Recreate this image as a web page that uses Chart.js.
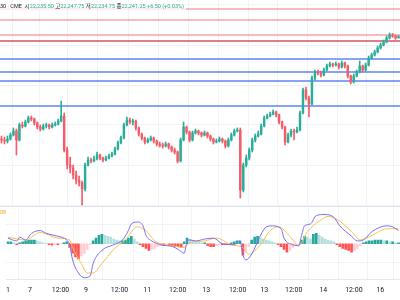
<!DOCTYPE html>
<html>
<head>
<meta charset="utf-8">
<script src="https://cdn.jsdelivr.net/npm/chart.js@4"></script>
<style>
html, body { margin: 0; padding: 0; background: #fff; width: 400px; height: 300px; overflow: hidden; font-family: Roboto, "Noto Sans CJK KR", sans-serif; }
#priceBox { position: absolute; left: 0; top: 0; width: 400px; height: 206px; }
#macdBox { position: absolute; left: 0; top: 207px; width: 400px; height: 93px; }
#sep { position: absolute; left: 0; top: 206px; width: 400px; height: 1px; background: #e0e3eb; }
#legend { position: absolute; left: 0; top: 3px; font-size: 5.5px; line-height: 7px; color: #131722; background: rgba(255,255,255,0.75); white-space: nowrap; padding-right: 2px; }
#legend b { font-weight: normal; color: #22ab94; }
#legend i { font-style: normal; font-family: "Noto Sans CJK KR", sans-serif; }
#macdLabel { position: absolute; left: 0; top: 209px; font-size: 5.5px; line-height: 7px; color: #f5a623; }
</style>
</head>
<body>
<div id="priceBox"><canvas id="price"></canvas></div>
<div id="sep"></div>
<div id="macdBox"><canvas id="macd"></canvas></div>
<div id="legend">30 · CME &nbsp;<i>시</i><b>22,235.50</b> <i>고</i><b>22,247.75</b> <i>저</i><b>22,234.75</b> <i>종</i><b>22,241.25</b> <b>+6.50 (+0.03%)</b></div>
<div id="macdLabel">08</div>
<script>
// velas de 30 min (apertura, máximo, mínimo, cierre)
const opens = [
  21730, 21725, 21720, 21730, 21750, 21770, 21725, 21800, 21795, 21815,
  21835, 21830, 21810, 21790, 21780, 21795, 21800, 21790, 21800, 21805,
  21820, 21845, 21675, 21600, 21585, 21550, 21525, 21510, 21480, 21600,
  21625, 21620, 21630, 21650, 21635, 21625, 21635, 21645, 21655, 21680,
  21710, 21735, 21800, 21825, 21815, 21820, 21785, 21755, 21735, 21715,
  21725, 21735, 21720, 21705, 21700, 21695, 21705, 21690, 21675, 21665,
  21620, 21725, 21790, 21765, 21725, 21760, 21770, 21760, 21750, 21760,
  21745, 21730, 21715, 21720, 21730, 21720, 21695, 21725, 21750, 21770,
  21775, 21475, 21600, 21635, 21675, 21725, 21745, 21755, 21795, 21835,
  21845, 21855, 21865, 21850, 21815, 21790, 21715, 21750, 21770, 21765,
  21775, 21860, 21975, 21935, 21905, 22035, 22065, 22060, 22050, 22075,
  22095, 22105, 22100, 22105, 22090, 22110, 22095, 22045, 22015, 22045,
  22065, 22095, 22075, 22100, 22135, 22150, 22165, 22185, 22200, 22215,
  22235, 22250, 22245, 22235.5
];
const highs = [
  21745, 21740, 21745, 21760, 21785, 21780, 21810, 21815, 21825, 21845,
  21845, 21835, 21815, 21800, 21805, 21810, 21805, 21810, 21815, 21830,
  21920, 21860, 21690, 21640, 21600, 21570, 21545, 21520, 21610, 21640,
  21635, 21645, 21665, 21655, 21640, 21645, 21655, 21665, 21690, 21720,
  21745, 21810, 21840, 21835, 21830, 21825, 21790, 21760, 21740, 21735,
  21745, 21740, 21725, 21715, 21710, 21715, 21710, 21695, 21685, 21670,
  21735, 21815, 21795, 21770, 21770, 21780, 21775, 21765, 21770, 21765,
  21750, 21735, 21730, 21740, 21735, 21725, 21735, 21760, 21780, 21785,
  21785, 21610, 21650, 21685, 21735, 21755, 21770, 21805, 21845, 21855,
  21865, 21875, 21870, 21855, 21820, 21795, 21760, 21780, 21780, 21790,
  21870, 21985, 21990, 21945, 22045, 22075, 22075, 22070, 22085, 22105,
  22115, 22110, 22115, 22110, 22120, 22115, 22100, 22050, 22055, 22075,
  22120, 22100, 22110, 22145, 22160, 22175, 22195, 22210, 22225, 22245,
  22260, 22258, 22250, 22247.75
];
const lows = [
  21710, 21705, 21710, 21725, 21745, 21650, 21720, 21785, 21790, 21810,
  21820, 21800, 21780, 21770, 21775, 21785, 21780, 21785, 21795, 21800,
  21815, 21665, 21580, 21560, 21530, 21505, 21495, 21400, 21470, 21595,
  21610, 21615, 21625, 21625, 21615, 21620, 21630, 21640, 21650, 21675,
  21705, 21730, 21795, 21805, 21800, 21775, 21745, 21725, 21705, 21710,
  21720, 21710, 21695, 21690, 21685, 21690, 21680, 21665, 21655, 21610,
  21615, 21720, 21755, 21715, 21720, 21755, 21750, 21740, 21745, 21735,
  21720, 21705, 21710, 21715, 21710, 21685, 21690, 21720, 21745, 21765,
  21435, 21465, 21590, 21625, 21665, 21715, 21740, 21750, 21790, 21830,
  21840, 21850, 21840, 21805, 21780, 21700, 21710, 21740, 21725, 21760,
  21770, 21855, 21925, 21840, 21900, 22025, 22050, 22040, 22045, 22070,
  22090, 22090, 22095, 22080, 22085, 22085, 22035, 22005, 22010, 22040,
  22060, 22065, 22070, 22095, 22130, 22145, 22160, 22180, 22195, 22210,
  22230, 22238, 22228, 22234.75
];
const closes = [
  21725, 21720, 21730, 21750, 21770, 21725, 21800, 21795, 21815, 21835,
  21830, 21810, 21790, 21780, 21795, 21800, 21790, 21800, 21805, 21820,
  21845, 21675, 21600, 21585, 21550, 21525, 21510, 21480, 21600, 21625,
  21620, 21630, 21650, 21635, 21625, 21635, 21645, 21655, 21680, 21710,
  21735, 21800, 21825, 21815, 21820, 21785, 21755, 21735, 21715, 21725,
  21735, 21720, 21705, 21700, 21695, 21705, 21690, 21675, 21665, 21620,
  21725, 21790, 21765, 21725, 21760, 21770, 21760, 21750, 21760, 21745,
  21730, 21715, 21720, 21730, 21720, 21695, 21725, 21750, 21770, 21775,
  21475, 21600, 21635, 21675, 21725, 21745, 21755, 21795, 21835, 21845,
  21855, 21865, 21850, 21815, 21790, 21715, 21750, 21770, 21765, 21775,
  21860, 21975, 21935, 21905, 22035, 22065, 22060, 22050, 22075, 22095,
  22105, 22100, 22105, 22090, 22110, 22095, 22045, 22015, 22045, 22065,
  22095, 22075, 22100, 22135, 22150, 22165, 22185, 22200, 22215, 22235,
  22250, 22245, 22235, 22241.25
];

// niveles horizontales
const levelsPink = [22380, 22325, 22250];
const levelsRed = [22220];
const levelsBlue = [22130, 22065, 22020, 21895];

// MACD
const histValues = [
  2, 2, 1, -1, 1, 2, 3, 4, 4, 4,
  3, 2, 1, 0.5, -1, -1.5, -1, -1, -0.5, 1,
  2, -4, -10, -14, -16, -13, -10, -6, -1, 3,
  6, 9, 10, 9, 8, 7, 5, 4, 3, 3,
  4, 6, 8, 5, 2, -1, -3, -5, -7, -6,
  -5, -3, -2, -2, -1, -2, -2, -3, -3, -4,
  2, 6, 5, 3, 2, 1.5, 1, 1, -2, -3,
  -3, -2, -1, -1, -1, -1, 1, 2, 3, 3,
  -12, -9, -3, 4, 7, 8, 6, 5, 4, 3,
  2, 1, -1, -3, -6, -9, -7, -4, -2, -1,
  4, 8, 7, 5, 10, 11, 9, 7, 5, 4,
  3, 2, -1, -3, -5, -6, -7, -9, -7, -5,
  -2, 1, 2, 3, 3, 4, 4, 4, 3, 3,
  2, 2, 1, 1
];
const macdIdx = [0, 3, 4, 6, 8, 11, 13, 17, 20, 21, 22, 24, 26, 28, 29, 32, 36, 39, 41, 42, 44, 46, 47, 49, 52, 56, 58, 60, 61, 62, 64, 67, 70, 73, 77, 79, 80, 81, 83, 86, 88, 90, 93, 94, 97, 99, 100, 101, 103, 105, 108, 111, 113, 117, 119, 121, 124, 129, 131, 133];
const macdVals = [6, 3, 7, 4, 11, 14, 11, 8, 4, -1, -17, -31, -36, -34, -21, -7, -1, 4, 14, 21, 23, 19, 9, 3, -1, -3, -6, -10, 3, 4, 3, 5, 6, 0, -1, 3, -12, -17, -11, 9, 18, 19, 16, 6, -1, -2, 9, 19, 21, 30, 31, 28, 19, 8, 3, 4, 13, 19, 18, 14];
const signalIdx = [0, 6, 11, 17, 21, 22, 25, 27, 29, 32, 36, 40, 44, 47, 50, 56, 60, 62, 67, 71, 76, 80, 82, 86, 89, 92, 96, 99, 102, 106, 109, 112, 117, 120, 124, 129, 133];
const signalVals = [7, 4, 12, 6, 4, -4, -21, -31, -31, -21, -6, 4, 18, 14, 3, -2, -4, 1, 3, 6, -1, -4, -11, -1, 13, 18, 8, -2, 13, 24, 29, 26, 13, 4, 9, 16, 16];

// eje x
const tickIdx = [0, 7.5, 17.9, 26.6, 38, 47.4, 57.8, 67.5, 78.2, 87.3, 97.3, 107.4, 117.8, 126.8];
const tickLabels = ['1', '7', '12:00', '9', '12:00', '11', '12:00', '13', '12:00', '13', '12:00', '14', '12:00', '16'];

const UP = '#2aae9a';
const DOWN = '#f45c68';
const GRID = '#f2f3f6';

function nivel(valor, color) {
    return {
        type: 'line',
        data: [{ x: -0.5, y: valor }, { x: opens.length - 0.5, y: valor }],
        borderColor: color,
        borderWidth: 1.5,
        pointRadius: 0,
        order: 3
    };
}

function ejeX(mostrarTexto) {
    return {
        type: 'linear',
        min: -0.5,
        max: opens.length - 0.5,
        offset: false,
        afterBuildTicks: axis => { axis.ticks = tickIdx.map(v => ({ value: v })); },
        grid: { color: GRID, drawTicks: false },
        border: { display: mostrarTexto, color: '#e6e8ee' },
        ticks: {
            display: mostrarTexto,
            autoSkip: false,
            maxRotation: 0,
            padding: 6,
            color: '#131722',
            font: { size: 7, family: 'Roboto' },
            callback: (v, i) => tickLabels[i]
        }
    };
}

const velaColor = closes.map((c, i) => c >= opens[i] ? UP : DOWN);

new Chart(document.getElementById('price'), {
    type: 'bar',
    data: {
        datasets: [
            ...levelsPink.map(v => nivel(v, 'rgba(242, 90, 105, 0.55)')),
            ...levelsRed.map(v => nivel(v, '#e0505e')),
            ...levelsBlue.map(v => nivel(v, '#5d87f0')),
            {
                data: lows.map((l, i) => ({ x: i, y: [l, highs[i]] })),
                backgroundColor: velaColor,
                barThickness: 1,
                grouped: false,
                order: 2
            },
            {
                data: opens.map((o, i) => ({ x: i, y: [o, closes[i]] })),
                backgroundColor: velaColor,
                barThickness: 1.8,
                minBarLength: 1,
                grouped: false,
                order: 1
            }
        ]
    },
    options: {
        responsive: true,
        maintainAspectRatio: false,
        animation: false,
        layout: { padding: 0 },
        plugins: { legend: { display: false }, tooltip: { enabled: false } },
        scales: {
            x: ejeX(false),
            y: {
                min: 21395,
                max: 22425,
                afterBuildTicks: axis => { axis.ticks = [21400, 21600, 21800, 22000, 22200, 22400].map(v => ({ value: v })); },
                grid: { color: GRID, drawTicks: false },
                border: { display: false },
                ticks: { display: false }
            }
        }
    }
});

const histColors = histValues.map((v, i) => {
    const prev = i ? histValues[i - 1] : 0;
    if (v >= 0) return v >= prev ? '#26a69a' : '#b2dfdb';
    return v <= prev ? '#ff5252' : '#ffcdd2';
});

new Chart(document.getElementById('macd'), {
    type: 'bar',
    data: {
        datasets: [
            {
                type: 'line',
                data: macdIdx.map((x, i) => ({ x: x, y: macdVals[i] })),
                borderColor: '#7b6ff2',
                borderWidth: 1,
                pointRadius: 0,
                cubicInterpolationMode: 'monotone',
                order: 1
            },
            {
                type: 'line',
                data: signalIdx.map((x, i) => ({ x: x, y: signalVals[i] })),
                borderColor: '#f7c14f',
                borderWidth: 1,
                pointRadius: 0,
                cubicInterpolationMode: 'monotone',
                order: 2
            },
            {
                data: histValues.map((v, i) => ({ x: i, y: v })),
                backgroundColor: histColors,
                barThickness: 2,
                grouped: false,
                order: 3
            }
        ]
    },
    options: {
        responsive: true,
        maintainAspectRatio: false,
        animation: false,
        layout: { padding: 0 },
        plugins: { legend: { display: false }, tooltip: { enabled: false } },
        scales: {
            x: ejeX(true),
            y: {
                min: -38,
                max: 39,
                afterBuildTicks: axis => { axis.ticks = [-20, 20].map(v => ({ value: v })); },
                grid: { color: GRID, drawTicks: false },
                border: { display: false },
                ticks: { display: false }
            }
        }
    }
});
</script>
</body>
</html>
